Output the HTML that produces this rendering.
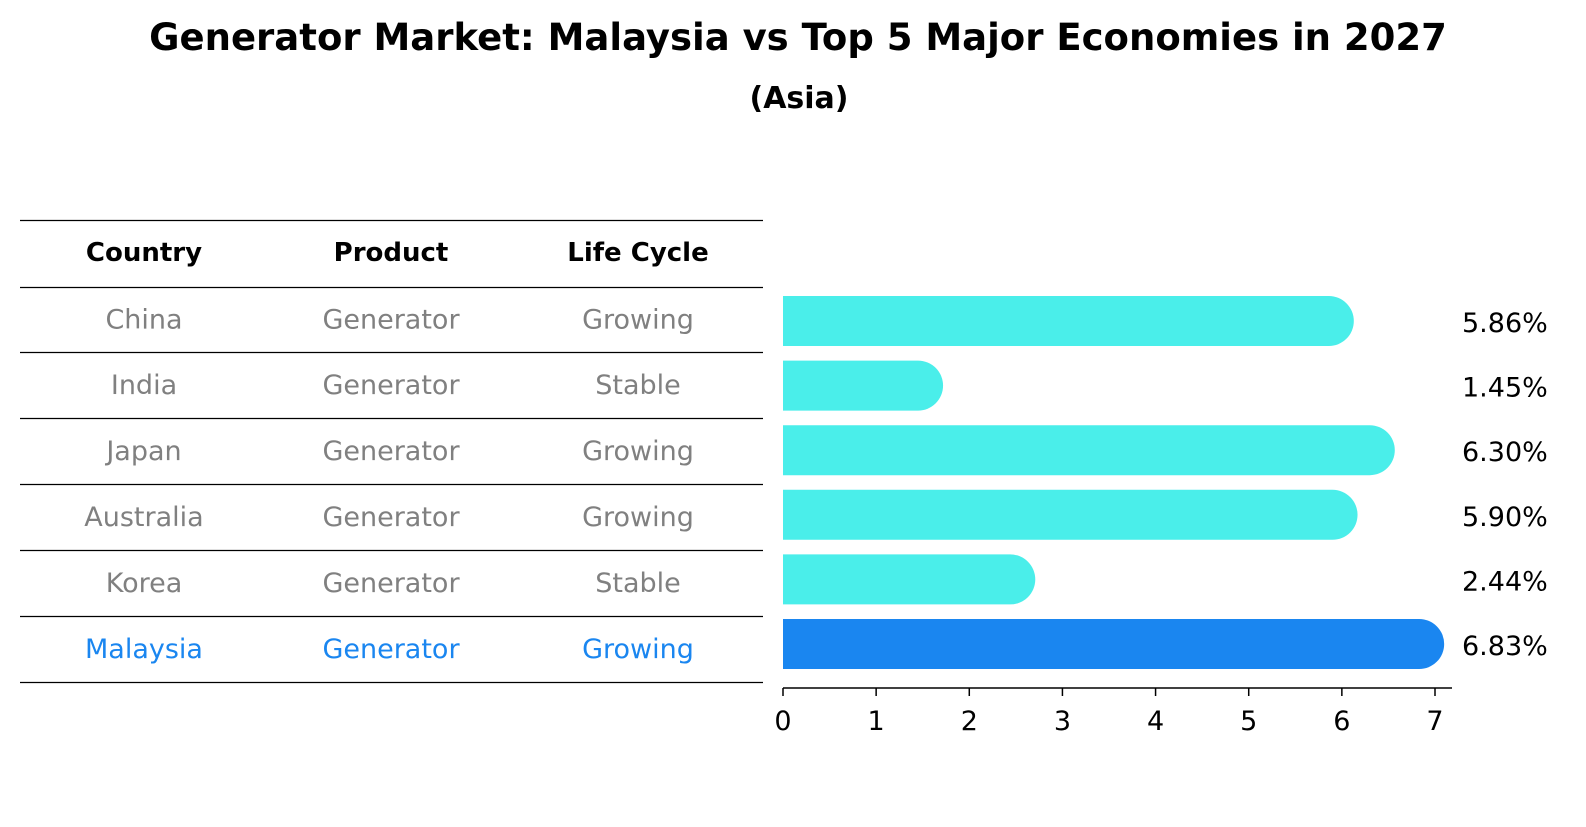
<!DOCTYPE html>
<html><head><meta charset="utf-8"><style>
body{margin:0;background:#fff;font-family:"DejaVu Sans","Liberation Sans",sans-serif;}
svg text{font-family:"DejaVu Sans","Liberation Sans",sans-serif;}
</style></head><body>
<svg id="chart" width="1586" height="823" viewBox="0 0 1586 823" xmlns="http://www.w3.org/2000/svg">
<rect width="1586" height="823" fill="#fff"/>
<text x="798" y="50" text-anchor="middle" font-size="37" font-weight="bold">Generator Market: Malaysia vs Top 5 Major Economies in 2027</text>
<text x="799" y="108" text-anchor="middle" font-size="30" font-weight="bold">(Asia)</text>
<g id="table"></g>
<g id="bars"></g>
</svg>
<script>
const countries=["China","India","Japan","Australia","Korea","Malaysia"];
const products=["Generator","Generator","Generator","Generator","Generator","Generator"];
const lifecycles=["Growing","Stable","Growing","Growing","Stable","Growing"];
const values=[5.86,1.45,6.30,5.90,2.44,6.83];
const valueLabels=["5.86%","1.45%","6.30%","5.90%","2.44%","6.83%"];
const ticks=[0,1,2,3,4,5,6,7];
const NS="http://www.w3.org/2000/svg";
function mk(t,a,p){const e=document.createElementNS(NS,t);for(const k in a)e.setAttribute(k,a[k]);p.appendChild(e);return e;}
const x0=783,unit=(1435-783)/7;
const xs=v=>x0+v*unit;
const rowY=i=>321+i*64.6;
const table=document.getElementById('table');
const lineYs=[220,287,352,418,484,550,616,682];
lineYs.forEach(y=>{const l=mk('line',{x1:20,x2:763,y1:y+0.5,y2:y+0.5,stroke:'#000','stroke-width':1.2},table);

});
const colX=[144,391,638];
["Country","Product","Life Cycle"].forEach((h,j)=>{const t=mk('text',{x:colX[j],y:261,'text-anchor':'middle','font-size':26,'font-weight':'bold'},table);t.textContent=h;

});
countries.forEach((c,i)=>{
 const y=(lineYs[i+1]+lineYs[i+2])/2+9;
 const col=i===countries.length-1?'#1a86f0':'#808080';
 [c,products[i],lifecycles[i]].forEach((s,j)=>{const t=mk('text',{x:colX[j],y:y,'text-anchor':'middle','font-size':27,fill:col},table);t.textContent=s;
 
 });
});
const bars=document.getElementById('bars');
const h=50,r=25;
values.forEach((v,i)=>{
 const cy=rowY(i),xe=xs(v);
 const col=i===values.length-1?'#1a86f0':'#4aeeea';
 const p=mk('path',{d:`M${x0} ${cy-h/2} H${xe} A${r} ${r} 0 0 1 ${xe} ${cy+h/2} H${x0} Z`,fill:col},bars);
 
 
 const t=mk('text',{x:1462,y:cy+11,'font-size':27},bars);t.textContent=valueLabels[i];
 
 
});
const ax=mk('line',{x1:x0,x2:1452,y1:688,y2:688,stroke:'#000','stroke-width':1.5},bars);


ticks.forEach(v=>{const l=mk('line',{x1:xs(v),x2:xs(v),y1:688,y2:696,stroke:'#000','stroke-width':1.5},bars);


const t=mk('text',{x:xs(v),y:730,'text-anchor':'middle','font-size':27},bars);t.textContent=v;

});
</script>
</body></html>
